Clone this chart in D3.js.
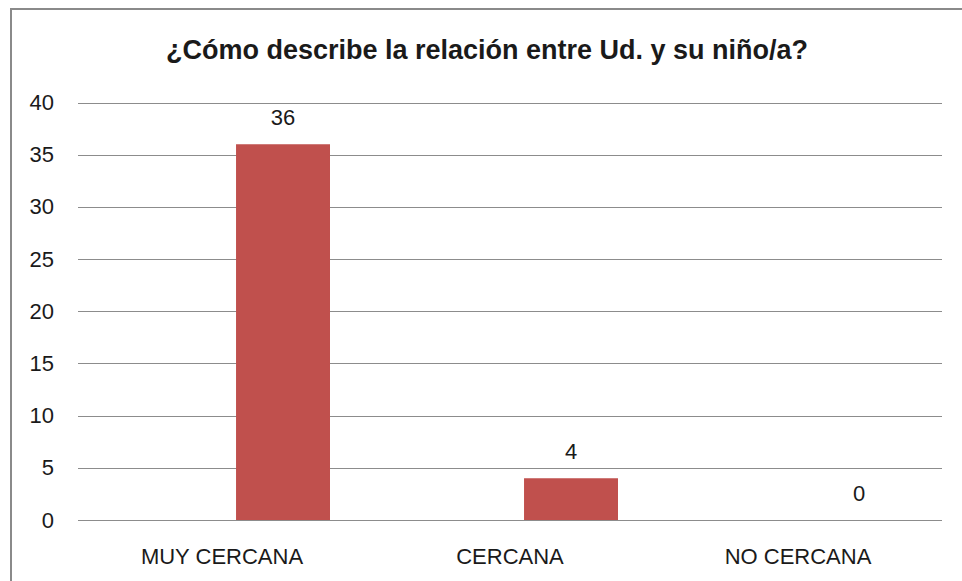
<!DOCTYPE html>
<html>
<head>
<meta charset="utf-8">
<script src="https://cdn.jsdelivr.net/npm/d3@7"></script>
<style>
  body { margin: 0; background: #fff; }
  text { font-family: "Liberation Sans", Arial, sans-serif; fill: #1a1a1a; }
</style>
</head>
<body>
<svg id="chart"></svg>
<script>
let w = 962;
let h = 581;

const title = '¿Cómo describe la relación entre Ud. y su niño/a?';
const categories = ['MUY CERCANA', 'CERCANA', 'NO CERCANA'];
const values = [36, 4, 0];
const yTicks = [0, 5, 10, 15, 20, 25, 30, 35, 40];

//plot area
const plotLeft = 78, plotRight = 942, plotTop = 102.5, plotBottom = 520;

let svg = d3.select('#chart')
    .attr('width', w)
    .attr('height', h);

//outer frame of the chart, runs past the window on right and bottom
svg.append('rect')
    .attr('x', 11)
    .attr('y', 9)
    .attr('width', w)
    .attr('height', h)
    .attr('fill', 'none')
    .attr('stroke', '#8a8a8a')
    .attr('stroke-width', 2);

//scales
let x = d3.scaleBand()
    .domain(categories)
    .range([plotLeft, plotRight]);

//the bar sits in the second slot of each category, like excel does
let slot = d3.scaleBand()
    .domain(['empty', 'value'])
    .range([0, x.bandwidth()])
    .paddingInner(0.23)
    .paddingOuter(0.295);

let y = d3.scaleLinear()
    .domain([0, 40])
    .range([plotBottom, plotTop]);

//gridlines and y labels
let yAxis = svg.append('g')
    .attr('transform', `translate(${plotLeft},0)`)
    .call(d3.axisLeft(y)
        .tickValues(yTicks)
        .tickSize(-(plotRight - plotLeft))
        .tickPadding(24));
yAxis.select('.domain').remove();
yAxis.selectAll('line')
    .attr('stroke', '#8c8c8c')
    .attr('shape-rendering', 'crispEdges');
yAxis.selectAll('text')
    .style('font-size', '22px')
    .attr('fill', '#1a1a1a');

//category labels
let xAxis = svg.append('g')
    .attr('transform', `translate(0,${plotBottom})`)
    .call(d3.axisBottom(x).tickSize(0).tickPadding(28));
xAxis.select('.domain').remove();
xAxis.selectAll('text')
    .style('font-size', '22px')
    .attr('fill', '#1a1a1a');

//bars
svg.selectAll('rect.bar')
    .data(values)
    .enter()
    .append('rect')
        .attr('class', 'bar')
        .attr('x', (d, i) => x(categories[i]) + slot('value'))
        .attr('y', (d) => y(d))
        .attr('width', slot.bandwidth())
        .attr('height', (d) => plotBottom - y(d))
        .attr('fill', '#c0504d');

//value labels
svg.selectAll('text.val')
    .data(values)
    .enter()
    .append('text')
        .attr('class', 'val')
        .attr('x', (d, i) => x(categories[i]) + slot('value') + slot.bandwidth() / 2)
        .attr('y', (d) => y(d) - 19)
        .attr('text-anchor', 'middle')
        .style('font-size', '22px')
        .text((d) => d);

//title
svg.append('text')
    .attr('x', 487)
    .attr('y', 59)
    .attr('text-anchor', 'middle')
    .style('font-size', '27px')
    .style('font-weight', 'bold')
    .text(title);
</script>
</body>
</html>
